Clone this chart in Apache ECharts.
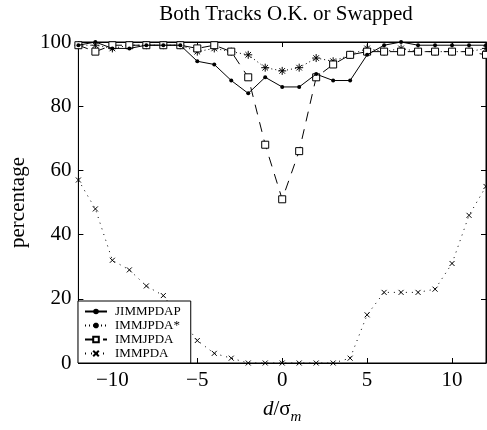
<!DOCTYPE html>
<html>
<head>
<meta charset="utf-8">
<script src="https://cdn.jsdelivr.net/npm/echarts@6/dist/echarts.min.js"></script>
<style>
  html, body { margin: 0; padding: 0; background: #fff; }
  #chart { width: 487px; height: 430px; }
</style>
</head>
<body>
<div id="chart"></div>
<script>
// separation d/sigma_m
var xs = [-12, -11, -10, -9, -8, -7, -6, -5, -4, -3, -2, -1, 0, 1, 2, 3, 4, 5, 6, 7, 8, 9, 10, 11, 12];
var jimmpdap = [99, 100, 98, 98, 99, 99, 99, 94, 93, 88, 84, 89, 86, 86, 90, 88, 88, 96, 99, 100, 99, 99, 99, 99, 99];
var immjpdaStar = [99, 99, 98, 99, 99, 99, 99, 97, 98, 97, 96, 92, 91, 92, 95, 94, 96, 98, 97, 98, 97, 97, 97, 97, 98];
var immjpda = [99, 97, 99, 99, 99, 99, 99, 98, 99, 97, 89, 68, 51, 66, 89, 93, 96, 97, 97, 97, 97, 97, 97, 97, 96];
var immpda = [57, 48, 32, 29, 24, 21, 14, 7, 3, 1.5, 0, 0, 0, 0, 0, 0, 1.5, 15, 22, 22, 22, 23, 31, 46, 55];
var xTicks = [-10, -5, 0, 5, 10];

var font = '"Liberation Serif","Times New Roman",serif';
var ASTER = 'path://M5,0L5,10M0,5L10,5M1.5,1.5L8.5,8.5M8.5,1.5L1.5,8.5';
var CROSS = 'path://M0,0L10,10M10,0L0,10';

function pairs(ys) {
  return xs.map(function(x, i) { return [x, ys[i]]; });
}
function minus(v) { return String(v).replace('-', '\u2212'); }

var chart = echarts.init(document.getElementById('chart'), null, { renderer: 'canvas' });

var boxAxis = {
  axisLine: { show: true, onZero: false, lineStyle: { color: '#000' } },
  axisTick: { show: true, inside: true, length: 5, lineStyle: { color: '#000' } },
  splitLine: { show: false }
};

var option = {
  animation: false,
  backgroundColor: '#fff',
  title: {
    text: 'Both Tracks O.K. or Swapped',
    left: 281,
    top: -1,
    textAlign: 'center',
    textStyle: { fontFamily: font, fontSize: 21, fontWeight: 'normal', color: '#000' }
  },
  grid: {
    left: 76, right: 1, top: 42, bottom: 64,
    show: true, borderColor: '#000', borderWidth: 1, backgroundColor: 'transparent'
  },
  legend: {
    orient: 'vertical',
    left: 78,
    top: 301,
    padding: [4, 10, 3, 6],
    itemGap: 1,
    itemWidth: 22,
    itemHeight: 7,
    backgroundColor: '#fff',
    borderColor: '#000',
    borderWidth: 1,
    borderRadius: 0,
    textStyle: { fontFamily: font, fontSize: 13, lineHeight: 13, color: '#000', padding: [0, 0, 0, 3] },
    data: ['JIMMPDAP', 'IMMJPDA*', 'IMMJPDA', 'IMMPDA']
  },
  xAxis: [echarts.util.merge({
    type: 'value',
    min: -12, max: 12,
    name: '{i|d}/\u03c3{s|m}',
    nameLocation: 'middle',
    nameGap: 31,
    nameTextStyle: {
      fontFamily: font, fontSize: 21, color: '#000',
      rich: {
        i: { fontFamily: font, fontStyle: 'italic', fontSize: 21, color: '#000' },
        s: { fontFamily: font, fontStyle: 'italic', fontSize: 15, color: '#000', verticalAlign: 'bottom', padding: [16, 0, 0, 0] }
      }
    },
    axisTick: { customValues: xTicks },
    axisLabel: { customValues: xTicks, fontFamily: font, fontSize: 21, color: '#000', margin: 7, formatter: minus }
  }, boxAxis), echarts.util.merge({
    type: 'value',
    position: 'top',
    min: -12, max: 12,
    axisTick: { customValues: xTicks },
    axisLabel: { show: false }
  }, boxAxis)],
  yAxis: [echarts.util.merge({
    type: 'value',
    min: 0, max: 100, interval: 20,
    name: 'percentage',
    nameLocation: 'middle',
    nameGap: 46,
    nameTextStyle: { fontFamily: font, fontSize: 21, color: '#000' },
    axisLabel: { fontFamily: font, fontSize: 21, color: '#000', margin: 7 }
  }, boxAxis), echarts.util.merge({
    type: 'value',
    position: 'right',
    min: 0, max: 100, interval: 20,
    axisLabel: { show: false }
  }, boxAxis)],
  series: [{
    name: 'JIMMPDAP',
    type: 'line',
    data: pairs(jimmpdap),
    symbol: 'circle',
    symbolSize: 4,
    lineStyle: { color: '#000', width: 1, type: 'solid' },
    itemStyle: { color: '#000' },
    z: 4
  }, {
    name: 'IMMJPDA*',
    type: 'line',
    data: pairs(immjpdaStar),
    symbol: ASTER,
    symbolSize: 8,
    lineStyle: { color: '#000', width: 1, type: [1, 3] },
    itemStyle: { color: 'none', borderColor: '#000', borderWidth: 1 },
    z: 3
  }, {
    name: 'IMMJPDA',
    type: 'line',
    data: pairs(immjpda),
    symbol: 'rect',
    symbolSize: 7,
    lineStyle: { color: '#000', width: 1, type: [10, 8] },
    itemStyle: { color: '#fff', borderColor: '#000', borderWidth: 1 },
    z: 3
  }, {
    name: 'IMMPDA',
    type: 'line',
    data: pairs(immpda),
    symbol: CROSS,
    symbolSize: 5,
    lineStyle: { color: '#000', width: 1, type: [1, 5] },
    itemStyle: { color: 'none', borderColor: '#000', borderWidth: 1 },
    z: 2
  }]
};

chart.setOption(option);
window.addEventListener('resize', function() { chart.resize(); });
</script>
</body>
</html>
